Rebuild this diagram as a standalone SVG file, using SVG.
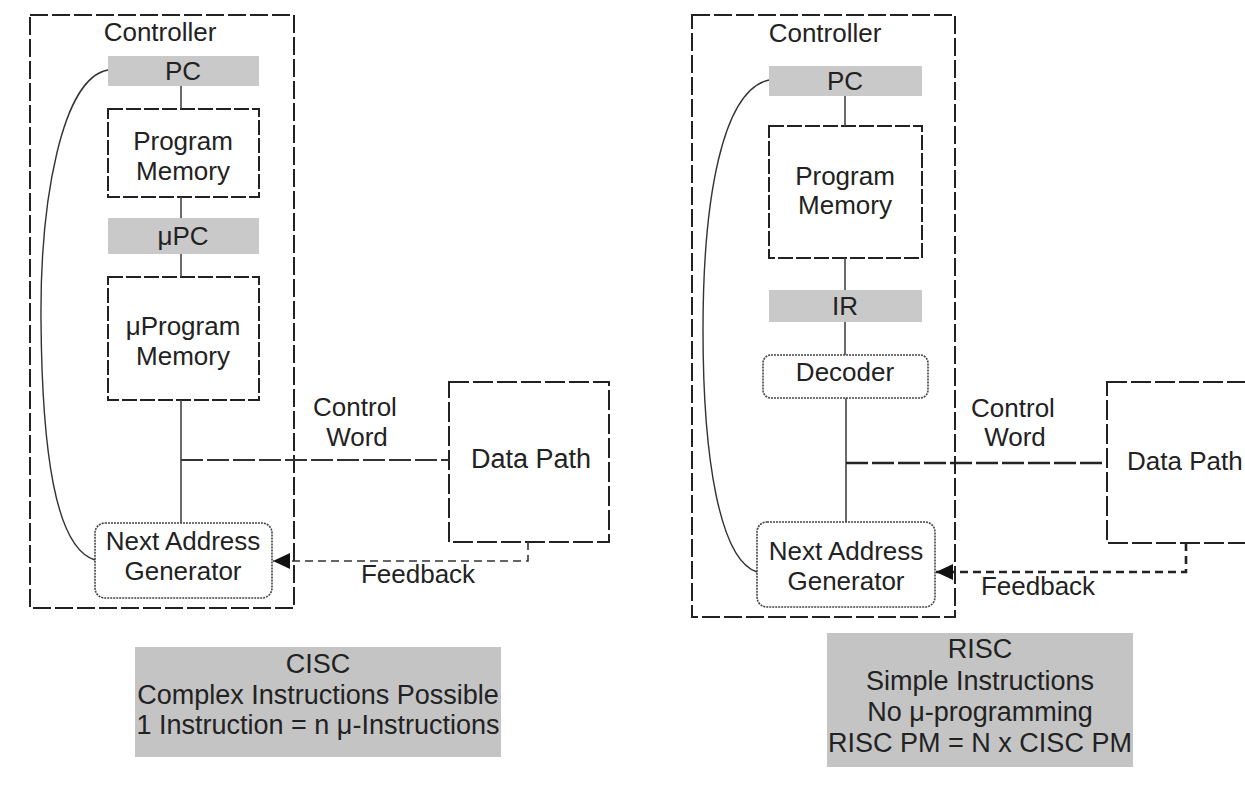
<svg xmlns="http://www.w3.org/2000/svg" width="1245" height="788" viewBox="0 0 1245 788">
<style>
text{font-family:"Liberation Sans",Arial,sans-serif;font-size:26px;fill:#222;text-anchor:middle}
.big{font-size:27px}
.ctrl{fill:none;stroke:#222;stroke-width:2;stroke-dasharray:18 4}
.reg{fill:#c9c9c9;stroke:none}
.mem{fill:#fff;stroke:#222;stroke-width:2;stroke-dasharray:15 3}
.rnd{fill:#fff;stroke:#444;stroke-width:1.6;stroke-dasharray:2 1}
.dp{fill:#fff;stroke:#222;stroke-width:2;stroke-dasharray:20 4}
.note{fill:#c4c4c4;stroke:none}
.wire{stroke:#444;stroke-width:1.6;fill:none}
.cw{stroke:#333;stroke-width:1.8;fill:none;stroke-dasharray:22 4}
.cw2{stroke:#222;stroke-width:2.6;fill:none;stroke-dasharray:22 4}
.fb{stroke:#333;stroke-width:1.6;fill:none;stroke-dasharray:8 5}
.fb2{stroke:#222;stroke-width:2.6;fill:none;stroke-dasharray:8 5}
.loop{stroke:#333;stroke-width:1.4;fill:none}
</style>
<defs>
<marker id="tri" markerUnits="userSpaceOnUse" markerWidth="18" markerHeight="16" refX="17" refY="8" orient="auto">
<path d="M0,0 L17,8 L0,16 Z" fill="#111"/>
</marker>
</defs>

<!-- LEFT: CISC -->
<g id="cisc-controller"><rect class="ctrl" x="30" y="15" width="264" height="593"/><text x="160" y="41">Controller</text></g>
<g id="cisc-pc"><rect class="reg" x="108" y="56" width="151" height="30"/><text x="183" y="80">PC</text></g>
<g id="cisc-pm"><rect class="mem" x="108" y="109" width="151" height="88"/><text x="183" y="150">Program</text><text x="183" y="180">Memory</text></g>
<g id="cisc-upc"><rect class="reg" x="108" y="218" width="151" height="36"/><text x="183" y="245">μPC</text></g>
<g id="cisc-upm"><rect class="mem" x="108" y="277" width="151" height="123"/><text x="183" y="335">μProgram</text><text x="183" y="365">Memory</text></g>
<g id="cisc-nag"><rect class="rnd" x="95" y="523" width="177" height="75" rx="10"/><text x="183" y="550">Next Address</text><text x="183" y="580">Generator</text></g>
<g id="cisc-datapath"><rect class="dp" x="449" y="382" width="160" height="160"/><text class="big" x="531" y="468">Data Path</text></g>
<g id="cisc-labels"><text x="355" y="416">Control</text><text x="357" y="446">Word</text><text x="418" y="583">Feedback</text></g>
<g id="cisc-note"><rect class="note" x="135" y="647" width="366" height="110"/>
<text class="big" x="318" y="673">CISC</text><text class="big" x="318" y="704">Complex Instructions Possible</text><text class="big" x="318" y="734">1 Instruction = n μ-Instructions</text></g>

<!-- RIGHT: RISC -->
<g id="risc-controller"><rect class="ctrl" x="692" y="15" width="263" height="602"/><text x="825" y="42">Controller</text></g>
<g id="risc-pc"><rect class="reg" x="769" y="66" width="153" height="30"/><text x="845" y="90">PC</text></g>
<g id="risc-pm"><rect class="mem" x="769" y="126" width="153" height="132"/><text x="845" y="185">Program</text><text x="845" y="214">Memory</text></g>
<g id="risc-ir"><rect class="reg" x="769" y="290" width="153" height="32"/><text x="845" y="315">IR</text></g>
<g id="risc-decoder"><rect class="rnd" x="763" y="355" width="165" height="43" rx="8"/><text x="845" y="381">Decoder</text></g>
<g id="risc-nag"><rect class="rnd" x="757" y="522" width="178" height="85" rx="10"/><text x="846" y="560">Next Address</text><text x="846" y="590">Generator</text></g>
<g id="risc-datapath"><rect class="dp" x="1107" y="382" width="170" height="161"/><text x="1127" y="470" style="text-anchor:start">Data Path</text></g>
<g id="risc-labels"><text x="1013" y="417">Control</text><text x="1015" y="446">Word</text><text x="1038" y="595">Feedback</text></g>
<g id="risc-note"><rect class="note" x="827" y="633" width="306" height="134"/>
<text class="big" x="980" y="658">RISC</text><text class="big" x="980" y="690">Simple Instructions</text><text class="big" x="980" y="721">No μ-programming</text><text class="big" x="980" y="752">RISC PM = N x CISC PM</text></g>

<g id="connectors">
<line class="wire" x1="181" y1="86" x2="181" y2="109"/>
<line class="wire" x1="181" y1="197" x2="181" y2="218"/>
<line class="wire" x1="181" y1="254" x2="181" y2="277"/>
<line class="wire" x1="181" y1="400" x2="181" y2="523"/>
<line class="cw" x1="181" y1="460" x2="449" y2="460"/>
<path class="fb" d="M528,542 V561 H273" marker-end="url(#tri)"/>
<path class="loop" d="M108,70 C62,78 40,200 41,320 C42,450 55,548 95,560"/>

<line class="wire" x1="845" y1="96" x2="845" y2="126"/>
<line class="wire" x1="845" y1="258" x2="845" y2="290"/>
<line class="wire" x1="845" y1="322" x2="845" y2="355"/>
<line class="wire" x1="846" y1="398" x2="846" y2="522"/>
<line class="cw2" x1="846" y1="463" x2="1107" y2="463"/>
<path class="fb2" d="M1186,543 V572 H936" marker-end="url(#tri)"/>
<path class="loop" d="M769,80 C722,90 703,200 703,330 C703,460 720,560 757,572"/>
</g>
</svg>
